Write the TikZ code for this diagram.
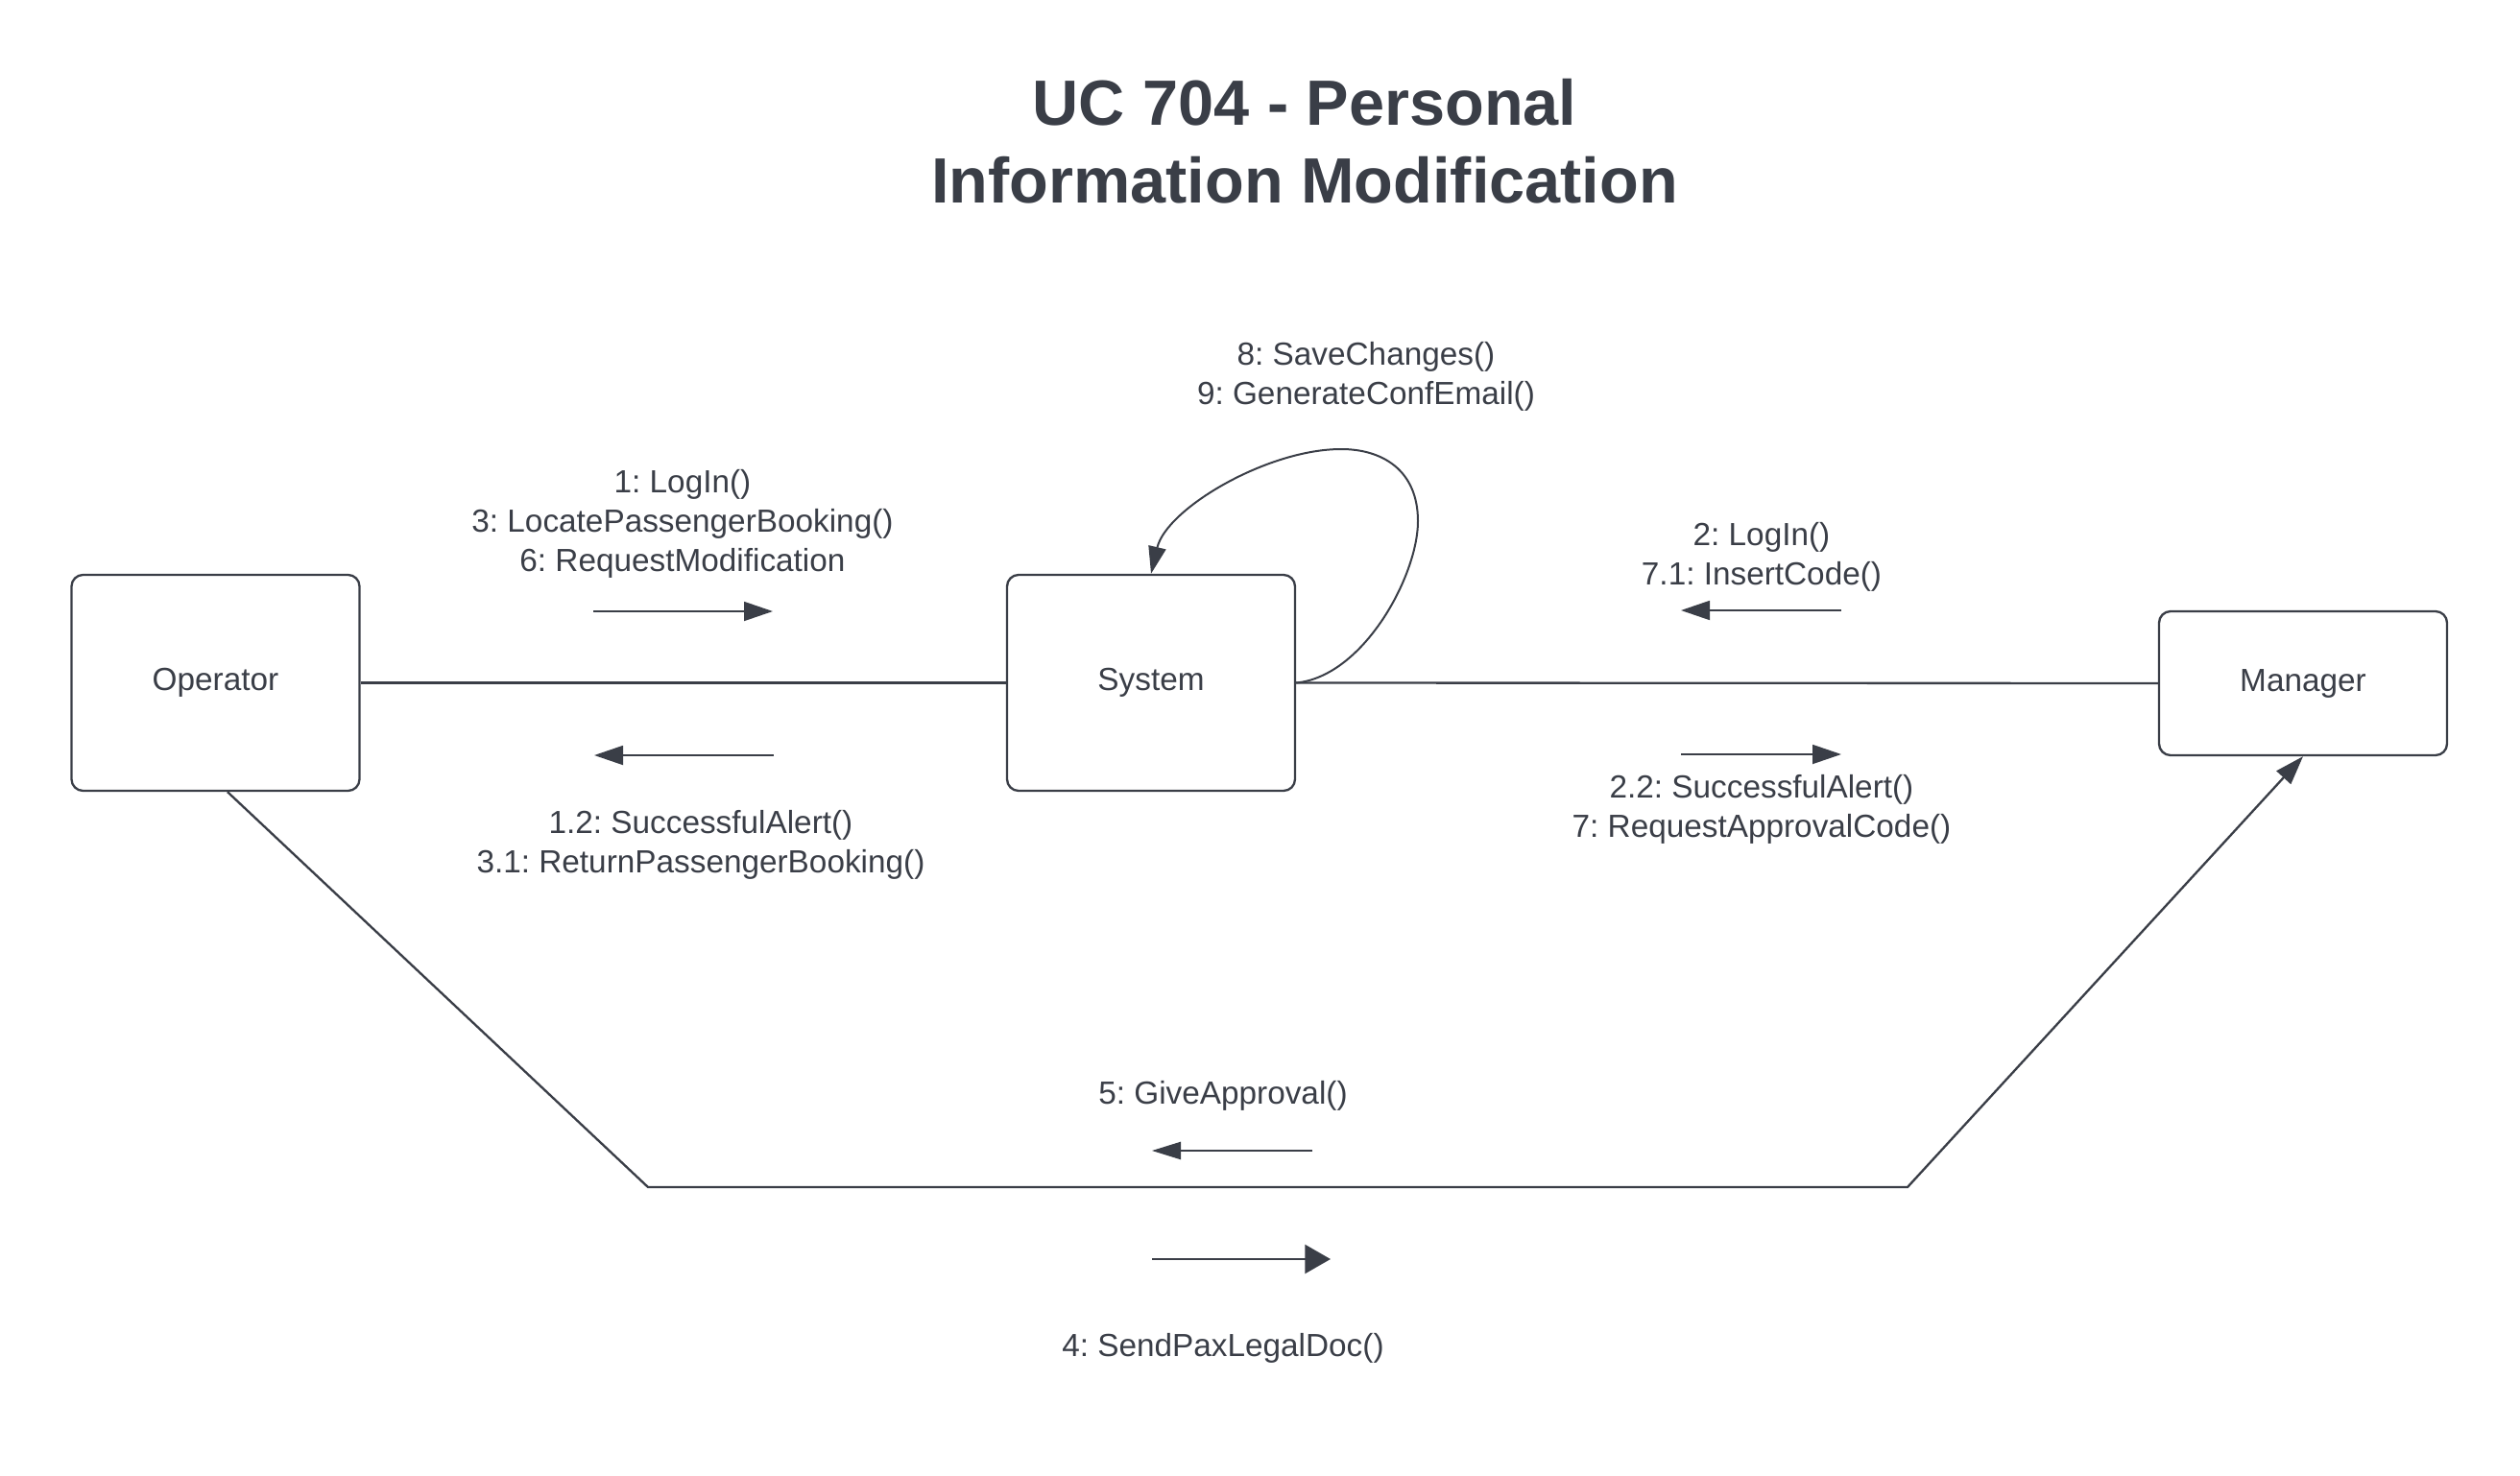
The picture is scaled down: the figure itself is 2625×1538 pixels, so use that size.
\documentclass[tikz,border=0pt]{standalone}
\usepackage{fontspec}
\setmainfont{Liberation Sans}
\usetikzlibrary{arrows.meta,calc}
\definecolor{ink}{HTML}{3A3E47}
\frenchspacing
\begin{document}
\begin{tikzpicture}[x=0.3pt,y=-0.3pt,
  every node/.style={text=ink},
  actor/.style={draw=ink,line width=0.7pt,rounded corners=3.6pt,fill=white,
    minimum width=90pt,inner sep=0pt,font=\fontsize{10}{12.3}\selectfont},
  lbl/.style={align=center,inner sep=0pt,font=\fontsize{10}{12.3}\selectfont\frenchspacing},
  conn/.style={draw=ink,line width=0.7pt},
  msg/.style={draw=ink,line width=0.55pt,-{Triangle[length=9pt,width=6pt]}},
]
\useasboundingbox (0,0) rectangle (2625,1538);
% title
\node[align=center,inner sep=0pt,font=\fontsize{20}{24.3}\selectfont\bfseries] (title) at (1359,147)
  {UC 704 - Personal\\Information Modification};
% actors
\node[actor,minimum height=67.5pt] (op) at (224.5,711.5) {Operator};
\node[actor,minimum height=67.5pt] (sys) at (1199,711.5) {System};
\node[actor,minimum height=45pt] (mgr) at (2399,712) {Manager};
% links
\draw[conn] (op.east) -- (sys.west);
\draw[conn] (sys.east) -- (mgr.west);
\coordinate (b1) at (675,1237);
\coordinate (b2) at (1987,1237);
\draw[conn,-{Triangle[length=9pt,width=6pt]}] ([xshift=3.75pt]op.south) -- (b1) -- (b2) -- (mgr.south);
% self loop
\draw[conn,line width=0.6pt,-{Triangle[length=8.5pt,width=5.5pt]}] (sys.east)
  .. controls (1420,705) and (1477,600) .. (1477,543)
  .. controls (1477,490) and (1440,468) .. (1397,468)
  .. controls (1320,468) and (1215,530) .. (sys.north);
% message arrows
\coordinate (a1s) at (618,637); \coordinate (a1e) at (805,637);
\coordinate (a2s) at (806,787); \coordinate (a2e) at (619,787);
\coordinate (a3s) at (1918,636); \coordinate (a3e) at (1751,636);
\coordinate (a4s) at (1751,786); \coordinate (a4e) at (1918,786);
\coordinate (a5s) at (1367,1199); \coordinate (a5e) at (1200,1199);
\coordinate (a6s) at (1200,1312); \coordinate (a6e) at (1386,1312);
\draw[msg] (a1s) -- (a1e);
\draw[msg] (a2s) -- (a2e);
\draw[msg] (a3s) -- (a3e);
\draw[msg] (a4s) -- (a4e);
\draw[msg,line width=0.4pt,-{Triangle[length=9pt,width=5.5pt]}] (a5s) -- (a5e);
\draw[msg,line width=0.7pt,-{Triangle[length=8pt,width=9pt]}] (a6s) -- (a6e);
% labels
\node[lbl] (l1) at (711,546) {1: LogIn()\\3: LocatePassengerBooking()\\6: RequestModification};
\node[lbl] (l2) at (730,880) {1.2: SuccessfulAlert()\\3.1: ReturnPassengerBooking()};
\node[lbl] (l3) at (1423,392) {8: SaveChanges()\\9: GenerateConfEmail()};
\node[lbl] (l4) at (1835,580) {2: LogIn()\\7.1: InsertCode()};
\node[lbl] (l5) at (1835,843) {2.2: SuccessfulAlert()\\7: RequestApprovalCode()};
\node[lbl] (l6) at (1274,1142) {5: GiveApproval()};
\node[lbl] (l7) at (1274,1405) {4: SendPaxLegalDoc()};
\end{tikzpicture}
\end{document}
